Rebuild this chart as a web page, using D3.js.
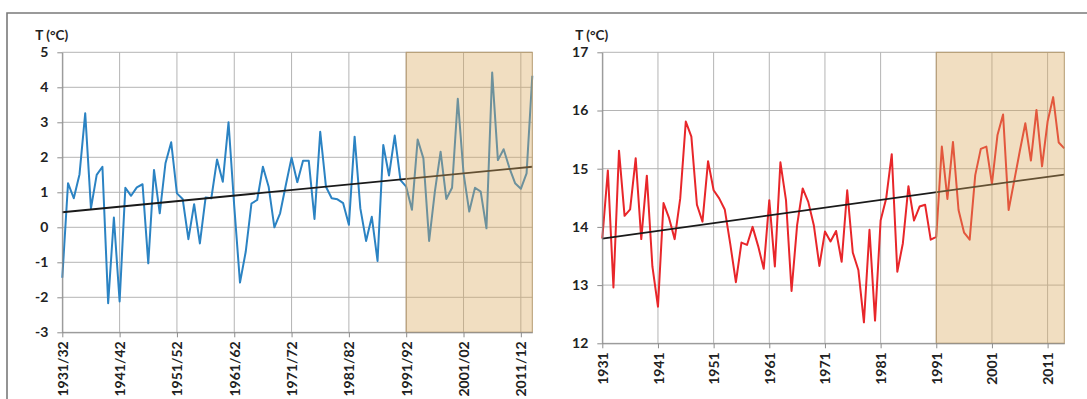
<!DOCTYPE html>
<html>
<head>
<meta charset="utf-8">
<script src="https://d3js.org/d3.v7.min.js"></script>
<style>
  body { margin: 0; background: #fff; }
  svg text { font-family: Lato, "Liberation Sans", sans-serif; font-weight: bold; fill: #222; }
  .tick line { stroke: #8c8c8c; }
  .domain { stroke: #8c8c8c; }
</style>
</head>
<body>
<div id="chart"></div>
<script>
// left panel: winter temperature, seasons 1931/32 .. 2013/14
const seasonLabels = ["1931/32", "1941/42", "1951/52", "1961/62", "1971/72", "1981/82", "1991/92", "2001/02", "2011/12"];
const winterTemp = [
  -1.44, 1.26, 0.83, 1.51, 3.26, 0.54, 1.50, 1.73, -2.17, 0.28,
  -2.12, 1.13, 0.90, 1.14, 1.23, -1.03, 1.64, 0.40, 1.83, 2.43,
  0.97, 0.81, -0.34, 0.66, -0.46, 0.85, 0.83, 1.94, 1.30, 3.00,
  0.60, -1.58, -0.70, 0.68, 0.78, 1.73, 1.16, 0.00, 0.40, 1.21,
  1.99, 1.29, 1.90, 1.90, 0.24, 2.73, 1.16, 0.83, 0.80, 0.69,
  0.07, 2.59, 0.54, -0.39, 0.30, -0.96, 2.35, 1.48, 2.62, 1.35,
  1.16, 0.50, 2.51, 1.97, -0.39, 1.02, 2.16, 0.81, 1.13, 3.67,
  1.55, 0.45, 1.13, 1.02, -0.03, 4.42, 1.92, 2.23, 1.70, 1.26,
  1.10, 1.54, 4.33
];
const winterTrend = [0.43, 1.73];   // value at first and last season
const winterTicks = [-3, -2, -1, 0, 1, 2, 3, 4, 5];

// right panel: annual mean temperature 1931 .. 2014
const yearLabels = ["1931", "1941", "1951", "1961", "1971", "1981", "1991", "2001", "2011"];
const annualTemp = [
  13.80, 14.97, 12.96, 15.31, 14.19, 14.30, 15.18, 13.79, 14.88, 13.32,
  12.63, 14.41, 14.15, 13.79, 14.49, 15.81, 15.55, 14.38, 14.09, 15.13,
  14.63, 14.49, 14.30, 13.70, 13.05, 13.73, 13.69, 14.00, 13.67, 13.28,
  14.46, 13.32, 15.11, 14.46, 12.90, 14.03, 14.66, 14.43, 14.03, 13.33,
  13.92, 13.75, 13.93, 13.40, 14.63, 13.56, 13.26, 12.36, 13.95, 12.39,
  14.11, 14.49, 15.25, 13.23, 13.72, 14.70, 14.11, 14.35, 14.38, 13.78,
  13.83, 15.38, 14.48, 15.46, 14.29, 13.90, 13.78, 14.89, 15.34, 15.38,
  14.74, 15.58, 15.93, 14.29, 14.79, 15.30, 15.78, 15.14, 16.01, 15.04,
  15.81, 16.23, 15.45, 15.35
];
const annualTrend = [13.80, 14.90];
const annualTicks = [12, 13, 14, 15, 16, 17];

const firstYear = 1931;
const recentStart = 1991;   // shaded period

const W = 1087, H = 399;
const svg = d3.select("#chart").append("svg")
    .attr("width", W).attr("height", H);

// outer frame (top and left edge only visible)
svg.append("path")
    .attr("d", "M7,399V13H1087")
    .attr("fill", "none").attr("stroke", "#7a7a7a").attr("stroke-width", 1.6);

function panel(opt) {
  const n = opt.values.length;
  const x = d3.scaleLinear().domain([firstYear, firstYear + n - 1]).range([opt.left, opt.right]);
  const y = d3.scaleLinear().domain(d3.extent(opt.ticks)).range([opt.bottom, opt.top]);
  const g = svg.append("g");

  // grid
  g.selectAll(".hg").data(opt.ticks).enter().append("line")
      .attr("x1", opt.left).attr("x2", opt.right)
      .attr("y1", d => y(d)).attr("y2", d => y(d))
      .attr("stroke", "#b4b4b4").attr("stroke-width", 1);
  const xt = opt.labels.map((l, i) => firstYear + i * 10);
  g.selectAll(".vg").data(xt).enter().append("line")
      .attr("x1", d => x(d)).attr("x2", d => x(d))
      .attr("y1", opt.top).attr("y2", opt.bottom)
      .attr("stroke", "#b4b4b4").attr("stroke-width", 1);

  // series
  const line = d3.line().x((d, i) => x(firstYear + i)).y(d => y(d));
  g.append("path").datum(opt.values)
      .attr("d", line)
      .attr("fill", "none").attr("stroke", opt.color).attr("stroke-width", 2)
      .attr("stroke-linejoin", "round");

  // trend
  g.append("line")
      .attr("x1", x(firstYear)).attr("y1", y(opt.trend[0]))
      .attr("x2", x(firstYear + n - 1)).attr("y2", y(opt.trend[1]))
      .attr("stroke", "#1a1a1a").attr("stroke-width", 1.8);

  // shaded recent period
  g.append("rect")
      .attr("x", x(recentStart)).attr("y", opt.top)
      .attr("width", opt.right - x(recentStart)).attr("height", opt.bottom - opt.top)
      .attr("fill", "#dba75c").attr("fill-opacity", 0.38)
      .attr("stroke", "#b59a70").attr("stroke-width", 1);

  // axes
  const ya = g.append("g").attr("transform", `translate(${opt.left},0)`)
      .call(d3.axisLeft(y).tickValues(opt.ticks).tickSize(5).tickPadding(9).tickSizeOuter(0)
        .tickFormat(d => String(d)));
  ya.selectAll("text").style("font-size", "14px");

  const xa = g.append("g").attr("transform", `translate(0,${opt.bottom})`)
      .call(d3.axisBottom(x).tickValues(xt).tickSize(5).tickSizeOuter(0)
        .tickFormat((d, i) => opt.labels[i]));
  xa.selectAll("text")
      .attr("transform", "rotate(-90)")
      .attr("x", -9).attr("y", 0).attr("dy", "0.36em")
      .style("text-anchor", "end").style("font-size", "14px");

  g.append("text")
      .attr("x", opt.left - 27).attr("y", 40)
      .style("font-size", "13.5px")
      .text("T (°C)");
}

panel({ values: winterTemp, trend: winterTrend, ticks: winterTicks, labels: seasonLabels,
        color: "#2b83c3", left: 62.3, right: 532.3, top: 52.3, bottom: 332.3 });
panel({ values: annualTemp, trend: annualTrend, ticks: annualTicks, labels: yearLabels,
        color: "#e8262a", left: 602.3, right: 1064.3, top: 52.3, bottom: 343.3 });
</script>
</body>
</html>
